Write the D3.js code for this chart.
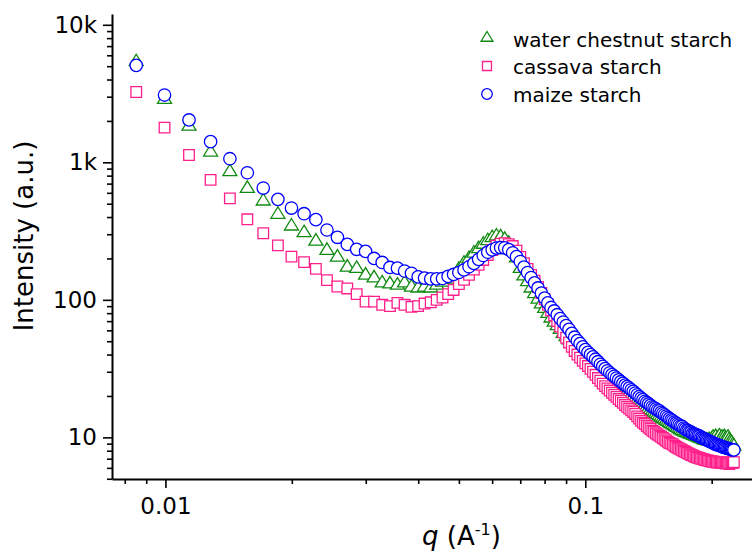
<!DOCTYPE html>
<html>
<head>
<meta charset="utf-8">
<script src="https://cdn.jsdelivr.net/npm/d3@7"></script>
<style>
body { margin: 0; background: #fff; }
svg { display: block; font-family: "DejaVu Sans", sans-serif; }
</style>
</head>
<body>
<div class="visHolder"></div>
<script>
const w = 752;
const h = 556;
const plotLeft = 112, plotRight = 752, plotTop = 14, plotBottom = 479;

// q (A^-1)
const q = [
  0.00852, 0.00995, 0.01138, 0.01281, 0.01424, 0.01567, 0.0171, 0.01853, 0.01996, 0.02139,
  0.02282, 0.02425, 0.02568, 0.02711, 0.02854, 0.02997, 0.0314, 0.03283, 0.03426, 0.03569,
  0.03712, 0.03855, 0.03998, 0.04141, 0.04284, 0.04427, 0.0457, 0.04713, 0.04856, 0.04999,
  0.05142, 0.05285, 0.05428, 0.05571, 0.05714, 0.05857, 0.06, 0.06143, 0.06286, 0.06429,
  0.06572, 0.06715, 0.06858, 0.07001, 0.07144, 0.07287, 0.0743, 0.07573, 0.07716, 0.07859,
  0.08002, 0.08145, 0.08288, 0.08431, 0.08574, 0.08717, 0.0886, 0.09003, 0.09146, 0.09289,
  0.09432, 0.09575, 0.09718, 0.09861, 0.10004, 0.10147, 0.1029, 0.10433, 0.10576, 0.10719,
  0.10862, 0.11005, 0.11148, 0.11291, 0.11434, 0.11577, 0.1172, 0.11863, 0.12006, 0.12149,
  0.12292, 0.12435, 0.12578, 0.12721, 0.12864, 0.13007, 0.1315, 0.13293, 0.13436, 0.13579,
  0.13722, 0.13865, 0.14008, 0.14151, 0.14294, 0.14437, 0.1458, 0.14723, 0.14866, 0.15009,
  0.15152, 0.15295, 0.15438, 0.15581, 0.15724, 0.15867, 0.1601, 0.16153, 0.16296, 0.16439,
  0.16582, 0.16725, 0.16868, 0.17011, 0.17154, 0.17297, 0.1744, 0.17583, 0.17726, 0.17869,
  0.18012, 0.18155, 0.18298, 0.18441, 0.18584, 0.18727, 0.1887, 0.19013, 0.19156, 0.19299,
  0.19442, 0.19585, 0.19728, 0.19871, 0.20014, 0.20157, 0.203, 0.20443, 0.20586, 0.20729,
  0.20872, 0.21015, 0.21158, 0.21301, 0.21444, 0.21587, 0.2173, 0.21873, 0.22016, 0.22159,
  0.22302, 0.22445, 0.22588
];

const waterChestnut = [
  5480, 2917, 1866, 1208, 869, 658, 532, 426, 350, 313,
  272, 233, 208, 176, 172, 154, 147, 135, 133, 130,
  135, 126, 124, 126, 124, 130, 137, 144, 151, 170,
  188, 203, 222, 240, 258, 274, 288, 296, 292, 280,
  262, 236, 205, 172, 152, 138, 124, 113, 103, 95,
  88, 81, 75, 70, 66, 62, 58, 55, 52, 49,
  46.5, 44, 42, 40, 38.5, 37, 35.5, 34, 33, 32,
  31, 30, 29, 28, 27.2, 26.4, 25.6, 24.9, 24.2, 23.6,
  23.0, 22.4, 21.8, 21.2, 20.7, 20.2, 19.6, 19.1, 18.6, 18.1,
  17.7, 17.3, 16.9, 16.5, 16.1, 15.8, 15.5, 15.2, 14.9, 14.6,
  14.3, 14.0, 13.8, 13.5, 13.3, 13.0, 12.8, 12.6, 12.4, 12.2,
  12.0, 11.8, 11.6, 11.4, 11.3, 11.1, 11.0, 10.9, 10.8, 10.7,
  10.6, 10.5, 10.4, 10.3, 10.2, 10.1, 10.0, 9.9, 9.8, 9.7,
  9.7, 9.6, 9.8, 9.5, 9.9, 10.2, 9.7, 10.3, 9.8, 10.1,
  10.4, 9.9, 10.2, 9.7, 10.3, 10.0, 9.6, 10.2, 9.8, 9.5,
  9.3, 9.0, 8.8
];

const cassava = [
  3245, 1786, 1130, 745, 547, 385, 305, 249, 206, 188,
  168, 139, 125, 121, 110, 97, 97, 92, 90, 95,
  92, 89, 90, 94, 96, 100, 104, 110, 118, 130,
  140, 152, 166, 180, 195, 212, 230, 248, 256, 258,
  254, 246, 228, 205, 185, 168, 152, 138, 124, 112,
  101, 92, 84, 77, 70, 64, 58, 53, 49, 45.5,
  42.5, 40, 38, 36, 34.5, 33, 31.5, 30, 28.5, 27,
  25.8, 24.6, 23.6, 22.7, 21.9, 21.1, 20.4, 19.7, 19.0, 18.4,
  17.8, 17.2, 16.7, 16.2, 15.7, 15.3, 14.8, 14.2, 13.7, 13.2,
  12.8, 12.5, 12.1, 11.8, 11.5, 11.2, 11.0, 10.7, 10.5, 10.3,
  10.1, 9.9, 9.7, 9.5, 9.3, 9.1, 9.0, 8.9, 8.7, 8.55,
  8.4, 8.3, 8.2, 8.05, 7.95, 7.85, 7.75, 7.65, 7.55, 7.45,
  7.4, 7.3, 7.2, 7.15, 7.1, 7.05, 7.0, 6.95, 6.9, 6.85,
  6.8, 6.8, 6.75, 6.7, 6.7, 6.65, 6.65, 6.6, 6.6, 6.6,
  6.55, 6.55, 6.5, 6.6, 6.5, 6.45, 6.55, 6.5, 6.4, 6.5,
  6.6, 6.5, 6.6
];

const maize = [
  5070, 3085, 2033, 1413, 1062, 840, 650, 538, 465, 423,
  383, 322, 285, 253, 233, 225, 200, 187, 172, 170,
  162, 156, 147, 144, 142, 142, 143, 148, 153, 158,
  165, 174, 184, 197, 210, 222, 231, 238, 240, 239,
  232, 220, 206, 190, 173, 158, 145, 133, 122, 112,
  103, 95, 88, 83, 78, 73, 69, 65, 61, 57,
  53.5, 50.5, 48, 45.5, 43.5, 41.5, 40, 38.5, 37, 35.5,
  34, 32.8, 31.6, 30.5, 29.5, 28.6, 27.8, 27.0, 26.2, 25.4,
  24.7, 24.0, 23.4, 22.8, 22.2, 21.6, 21.0, 20.4, 19.8, 19.3,
  18.8, 18.3, 17.9, 17.5, 17.1, 16.7, 16.4, 16.1, 15.8, 15.6,
  15.2, 14.9, 14.6, 14.3, 14.0, 13.7, 13.4, 13.2, 12.9, 12.7,
  12.5, 12.3, 12.1, 12.0, 11.7, 11.5, 11.3, 11.2, 11.0, 10.9,
  10.7, 10.6, 10.5, 10.4, 10.3, 10.2, 10.0, 9.9, 9.8, 9.7,
  9.6, 9.5, 9.4, 9.3, 9.2, 9.1, 9.0, 8.9, 8.85, 8.8,
  8.7, 8.65, 8.6, 8.5, 8.45, 8.4, 8.35, 8.3, 8.25, 8.2,
  8.15, 8.1, 8.1
];

const seriesNames = ['water chestnut starch', 'cassava starch', 'maize starch'];
const seriesColors = ['#118a11', '#ff1f8a', '#0000ff'];

const yMajor = [10, 100, 1000, 10000];
const yMajorLabels = ['10', '100', '1k', '10k'];
const yMinor = [5, 6, 7, 8, 9, 20, 30, 40, 50, 60, 70, 80, 90,
  200, 300, 400, 500, 600, 700, 800, 900,
  2000, 3000, 4000, 5000, 6000, 7000, 8000, 9000];
const xMajor = [0.01, 0.1];
const xMajorLabels = ['0.01', '0.1'];
const xMinor = [0.008, 0.009, 0.02, 0.03, 0.04, 0.05, 0.06, 0.07, 0.08, 0.09, 0.2];

const svg = d3.select('.visHolder').append('svg').attr('width', w).attr('height', h);

const xScale = d3.scaleLog().domain([0.00746, 0.2495]).range([plotLeft, plotRight]);
const yScale = d3.scaleLog().domain([4.98, 11980]).range([plotBottom, plotTop]);

// symbols
const triangle = {
  draw(ctx) {
    ctx.moveTo(0, -6.5);
    ctx.lineTo(7, 5);
    ctx.lineTo(-7, 5);
    ctx.closePath();
  }
};
const square = {
  draw(ctx) {
    ctx.rect(-5.3, -5.3, 10.6, 10.6);
  }
};
const circle = {
  draw(ctx) {
    ctx.moveTo(6.2, 0);
    ctx.arc(0, 0, 6.2, 0, 2 * Math.PI);
  }
};
const shapes = [triangle, square, circle];
const series = [waterChestnut, cassava, maize];

// points, drawn in legend order
series.forEach(function (vals, i) {
  svg.append('g').selectAll('path').data(vals).enter().append('path')
    .attr('d', d3.symbol().type(shapes[i]))
    .attr('transform', (d, j) => 'translate(' + xScale(q[j]) + ',' + yScale(d) + ')')
    .attr('fill', '#fff')
    .attr('stroke', seriesColors[i])
    .attr('stroke-width', 1.3);
});

// axes
const yAxis = d3.axisLeft(yScale).tickValues(yMajor).tickSize(9).tickSizeOuter(0).tickPadding(6)
  .tickFormat((d, i) => yMajorLabels[i]);
const yAxisMinor = d3.axisLeft(yScale).tickValues(yMinor).tickSize(5).tickSizeOuter(0).tickFormat('');
const xAxis = d3.axisBottom(xScale).tickValues(xMajor).tickSize(9).tickSizeOuter(0).tickPadding(10)
  .tickFormat((d, i) => xMajorLabels[i]);
const xAxisMinor = d3.axisBottom(xScale).tickValues(xMinor).tickSize(5).tickSizeOuter(0).tickFormat('');

const gy = svg.append('g').attr('transform', 'translate(' + plotLeft + ',0)').call(yAxis);
const gy2 = svg.append('g').attr('transform', 'translate(' + plotLeft + ',0)').call(yAxisMinor);
const gx = svg.append('g').attr('transform', 'translate(0,' + plotBottom + ')').call(xAxis);
const gx2 = svg.append('g').attr('transform', 'translate(0,' + plotBottom + ')').call(xAxisMinor);

[gy, gy2, gx, gx2].forEach(function (g) {
  g.selectAll('line').attr('stroke', '#000').attr('stroke-width', 1.6);
  g.selectAll('text').attr('fill', '#000').style('font-family', '"DejaVu Sans", sans-serif').style('font-size', '23px');
  g.select('.domain').attr('stroke', '#000').attr('stroke-width', 2);
});
gy2.select('.domain').remove();
gx2.select('.domain').remove();

// axis titles
svg.append('text')
  .attr('transform', 'translate(33,236) rotate(-90)')
  .attr('text-anchor', 'middle')
  .style('font-size', '26px')
  .text('Intensity (a.u.)');

const xt = svg.append('text')
  .attr('x', 422).attr('y', 545)
  .style('font-size', '26px');
xt.append('tspan').style('font-style', 'italic').text('q');
xt.append('tspan').text(' (A');
xt.append('tspan').attr('dy', -10).style('font-size', '16px').text('-1');
xt.append('tspan').attr('dy', 10).text(')');

// legend
const legendY = [37, 66, 94];
const legendBase = [46.7, 74.3, 101.7];
seriesNames.forEach(function (name, i) {
  svg.append('path')
    .attr('d', d3.symbol().type(shapes[i]))
    .attr('transform', 'translate(487,' + legendY[i] + ') scale(0.85)')
    .attr('fill', '#fff')
    .attr('stroke', seriesColors[i])
    .attr('stroke-width', 1.5);
  svg.append('text')
    .attr('x', 513).attr('y', legendBase[i])
    .style('font-size', '20px')
    .text(name);
});
</script>
</body>
</html>
